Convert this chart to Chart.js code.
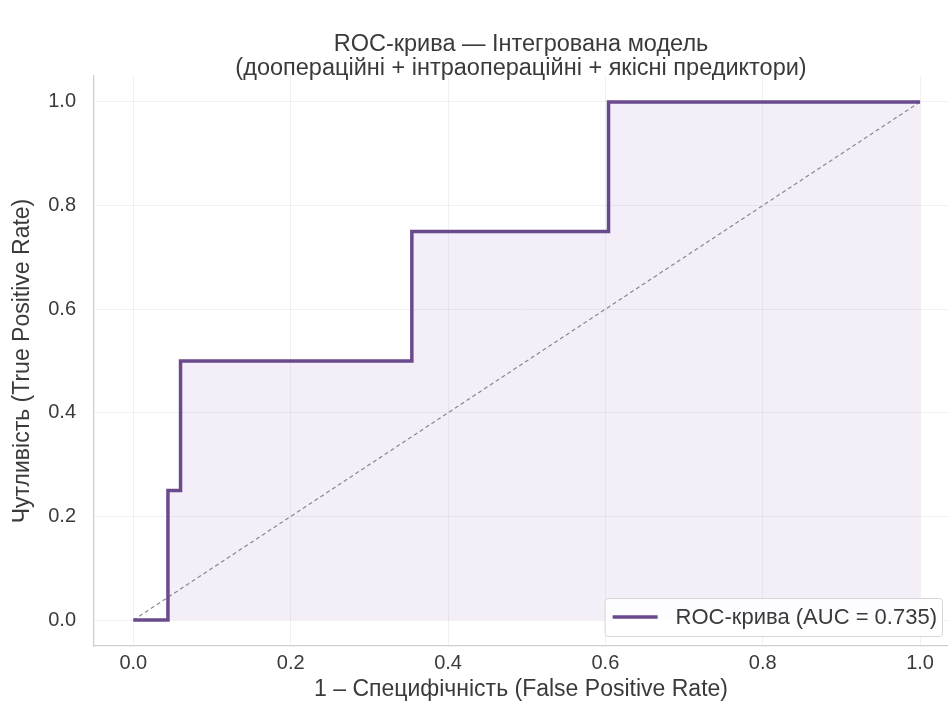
<!DOCTYPE html>
<html>
<head>
<meta charset="utf-8">
<script src="https://cdn.jsdelivr.net/npm/chart.js@4.4.1/dist/chart.umd.min.js"></script>
<style>
  html, body { margin: 0; padding: 0; background: #ffffff; overflow: hidden; }
  canvas { display: block; }
</style>
</head>
<body>
<canvas id="roc" width="948" height="711"></canvas>
<script>
// ROC curve of the integrated model (corner points of the step curve)
const fpr = [0, 0.044, 0.044, 0.06, 0.06, 0.354, 0.354, 0.604, 0.604, 1.0];
const tpr = [0, 0, 0.25, 0.25, 0.5, 0.5, 0.75, 0.75, 1.0, 1.0];

// Chance diagonal
const chanceX = [0, 1];
const chanceY = [0, 1];

const tickValues = [0, 0.2, 0.4, 0.6, 0.8, 1.0];
const aucValue = 0.735;

const titleLines = [
  'ROC-крива — Інтегрована модель',
  '(доопераційні + інтраопераційні + якісні предиктори)'
];
const xTitle = '1 – Специфічність (False Positive Rate)';
const yTitle = 'Чутливість (True Positive Rate)';
const rocLabel = 'ROC-крива (AUC = ' + aucValue.toFixed(3) + ')';

const FONT = '"Liberation Sans", Arial, Helvetica, sans-serif';
const LINE_COLOR = '#6a4a8c';
const TEXT_COLOR = '#3a3a3a';

const rocPoints = fpr.map((x, i) => ({ x: x, y: tpr[i] }));
const chancePoints = chanceX.map((x, i) => ({ x: x, y: chanceY[i] }));

// Legend box in the lower right corner of the plot area
const cornerLegend = {
  id: 'cornerLegend',
  afterDraw(chart) {
    const ds = chart.data.datasets[0];
    const ctx = chart.ctx;
    const area = chart.chartArea;
    ctx.save();
    ctx.font = '22px ' + FONT;
    const textW = ctx.measureText(ds.label).width;
    const padR = 5, gap = 18, handle = 45, padL = 8;
    const right = area.right - 6;
    const bottom = area.bottom - 10;
    const h = 38;
    const w = padL + handle + gap + textW + padR;
    const left = right - w;
    const top = bottom - h;
    ctx.beginPath();
    ctx.roundRect(left + 0.5, top + 0.5, w, h, 3);
    ctx.fillStyle = 'rgba(255,255,255,0.85)';
    ctx.fill();
    ctx.strokeStyle = '#d6d6d6';
    ctx.lineWidth = 1;
    ctx.stroke();
    const cy = top + h / 2;
    ctx.beginPath();
    ctx.moveTo(left + padL, cy);
    ctx.lineTo(left + padL + handle, cy);
    ctx.strokeStyle = ds.borderColor;
    ctx.lineWidth = ds.borderWidth;
    ctx.stroke();
    ctx.fillStyle = TEXT_COLOR;
    ctx.textBaseline = 'middle';
    ctx.textAlign = 'left';
    ctx.fillText(ds.label, left + padL + handle + gap, cy + 1);
    ctx.restore();
  }
};

new Chart(document.getElementById('roc'), {
  type: 'scatter',
  data: {
    datasets: [
      {
        label: rocLabel,
        data: rocPoints,
        showLine: true,
        borderColor: LINE_COLOR,
        borderWidth: 3.5,
        pointRadius: 0,
        fill: 'origin',
        backgroundColor: 'rgba(128,60,170,0.085)',
        borderJoinStyle: 'miter',
        order: 0
      },
      {
        label: 'chance',
        data: chancePoints,
        showLine: true,
        borderColor: '#8c8c8c',
        borderWidth: 1.2,
        borderDash: [4, 3],
        pointRadius: 0,
        fill: false,
        order: 1
      }
    ]
  },
  options: {
    responsive: false,
    animation: false,
    devicePixelRatio: 1,
    layout: { padding: 0 },
    plugins: {
      legend: { display: false },
      tooltip: { enabled: false },
      title: {
        display: true,
        fullSize: false,
        text: titleLines,
        color: TEXT_COLOR,
        font: { family: FONT, size: 23.5, weight: 'normal', lineHeight: 1.0 },
        padding: { top: 33, bottom: -4 }
      }
    },
    scales: {
      x: {
        type: 'linear',
        min: -0.05,
        max: 1.0355,
        afterBuildTicks(scale) { scale.ticks = tickValues.map(v => ({ value: v })); },
        afterFit(scale) { scale.height = 65; },
        ticks: {
          color: TEXT_COLOR,
          font: { family: FONT, size: 20 },
          padding: 5,
          maxRotation: 0,
          callback: v => v.toFixed(1)
        },
        grid: { color: 'rgba(0,0,0,0.055)', lineWidth: 1, drawTicks: false },
        border: { color: '#cfcfcf', width: 1.3 },
        title: {
          display: true,
          text: xTitle,
          color: TEXT_COLOR,
          font: { family: FONT, size: 23 },
          padding: { top: 0, bottom: 8 }
        }
      },
      y: {
        type: 'linear',
        min: -0.05,
        max: 1.05,
        afterBuildTicks(scale) { scale.ticks = tickValues.map(v => ({ value: v })); },
        afterFit(scale) { scale.width = 94; },
        ticks: {
          color: TEXT_COLOR,
          font: { family: FONT, size: 20 },
          padding: 18,
          callback: v => v.toFixed(1)
        },
        grid: { color: 'rgba(0,0,0,0.055)', lineWidth: 1, drawTicks: false },
        border: { color: '#cfcfcf', width: 1.3 },
        title: {
          display: true,
          text: yTitle,
          color: TEXT_COLOR,
          font: { family: FONT, size: 23 },
          padding: { top: 9, bottom: 0 }
        }
      }
    }
  },
  plugins: [cornerLegend]
});
</script>
</body>
</html>
